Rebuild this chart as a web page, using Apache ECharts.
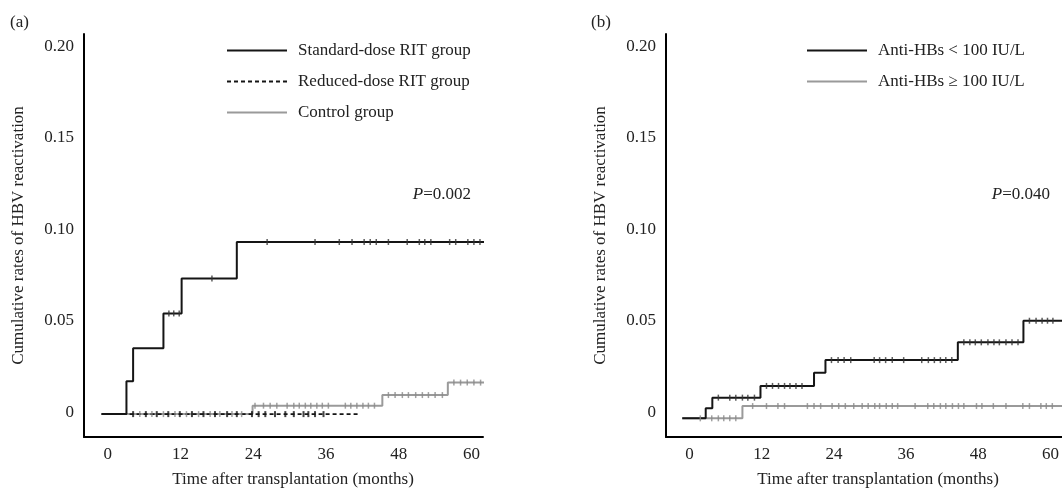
<!DOCTYPE html>
<html>
<head>
<meta charset="utf-8">
<script src="https://cdn.jsdelivr.net/npm/echarts@6/dist/echarts.min.js"></script>
<style>
    html, body {margin: 0; padding: 0; background: #fff;}
    #main {width: 1062px; height: 490px;}
</style>
</head>
<body>
<div id="main"></div>
<script>
// panel (a) - RIT groups
var stdTimes = [-1.0, 3.1, 4.2, 9.2, 12.2, 21.3, 62.5];
var stdRates = [-0.001, 0.017, 0.035, 0.054, 0.073, 0.093, 0.093];
var stdCensor = [10.1, 10.9, 11.8, 17.2, 26.3, 34.2, 38.2, 40.3, 42.3, 43.3, 44.3, 46.3, 49.4, 51.4, 52.3, 53.3, 56.4, 57.4, 59.4, 60.4, 61.4];

var redTimes = [-1.0, 41.4];
var redRates = [-0.001, -0.001];
var redCensor = [4.2, 6.3, 8.1, 10.0, 11.9, 13.9, 15.8, 17.7, 19.7, 21.3, 23.8, 24.9, 26.0, 27.6, 29.3, 30.7, 32.3, 33.1, 34.2, 35.6];

var ctlTimes = [-1.0, 23.9, 45.3, 56.1, 62.5];
var ctlRates = [-0.001, 0.0036, 0.0094, 0.0162, 0.0162];
var ctlCensor = [5.3, 7.3, 9.2, 11.1, 13.0, 15.0, 16.9, 18.5, 20.5, 22.1, 24.3, 25.7, 26.8, 27.9, 29.6, 30.7, 31.6, 32.6, 33.5, 34.5, 35.4, 36.4, 39.2, 40.1, 41.1, 42.1, 43.0, 44.0, 46.3, 47.4, 48.6, 49.6, 50.8, 51.9, 52.9, 54.0, 55.2, 57.1, 58.2, 59.3, 60.4, 61.5];

// panel (b) - anti-HBs titre
var lowTimes = [-1.2, 2.7, 3.8, 11.8, 20.7, 22.6, 44.6, 55.5, 63];
var lowRates = [-0.0033, 0.0022, 0.0080, 0.0144, 0.0216, 0.0285, 0.0382, 0.0500, 0.0500];
var lowCensor = [4.8, 6.7, 7.7, 8.8, 9.7, 10.8, 12.8, 13.8, 14.8, 15.8, 16.7, 17.7, 18.7, 23.6, 24.7, 25.7, 26.8, 30.7, 31.6, 32.6, 33.7, 35.6, 38.6, 39.7, 40.7, 41.7, 42.6, 43.6, 45.6, 46.6, 47.5, 48.5, 49.6, 50.6, 51.5, 52.6, 53.6, 54.6, 56.5, 57.6, 58.6, 59.5, 60.4];

var highTimes = [-1.2, 8.8, 63];
var highRates = [-0.0033, 0.0034, 0.0034];
var highCensor = [1.8, 3.7, 4.8, 5.7, 6.7, 7.7, 10.5, 12.8, 14.7, 15.8, 19.6, 20.7, 21.8, 23.7, 24.8, 25.9, 27.3, 28.7, 29.7, 30.8, 31.6, 32.7, 33.7, 34.6, 37.5, 39.6, 40.6, 41.7, 42.6, 43.7, 44.7, 45.6, 47.7, 48.6, 50.5, 52.6, 55.4, 56.5, 58.4, 59.3, 60.3];

var xTicks = [0, 12, 24, 36, 48, 60];
var yTicks = [0, 0.05, 0.10, 0.15, 0.20];

var FONT = 'Liberation Serif';
var FS = 17;
var BLACK = '#151515';
var GREY = '#9a9a9a';

function stepData(times, rates) {
    var out = [];
    for (var i = 0; i < times.length; i++) {
        out.push([times[i], rates[i]]);
    }
    return out;
}

function levelAt(times, rates, t) {
    var v = rates[0];
    for (var i = 0; i < times.length; i++) {
        if (times[i] <= t) v = rates[i];
    }
    return v;
}

function censorData(censor, times, rates) {
    return censor.map(function (t) {
        return [t, levelAt(times, rates, t)];
    });
}

function xAxisOf(idx) {
    return {
        type: 'value',
        gridIndex: idx,
        min: -3.9,
        max: 61.9,
        axisLine: {show: true, onZero: false, lineStyle: {color: '#000', width: 2}},
        axisTick: {show: false},
        splitLine: {show: false},
        axisLabel: {
            customValues: xTicks,
            margin: 9,
            color: '#222',
            fontFamily: FONT,
            fontSize: FS
        }
    };
}

function yAxisOf(idx) {
    return {
        type: 'value',
        gridIndex: idx,
        min: -0.0135,
        max: 0.2066,
        name: 'Cumulative rates of HBV reactivation',
        nameLocation: 'middle',
        nameGap: 57,
        nameTextStyle: {color: '#222', fontFamily: FONT, fontSize: FS},
        axisLine: {show: true, onZero: false, lineStyle: {color: '#000', width: 2}},
        axisTick: {show: false},
        splitLine: {show: false},
        axisLabel: {
            customValues: yTicks,
            margin: 10,
            color: '#222',
            fontFamily: FONT,
            fontSize: FS,
            formatter: function (v) {
                return v === 0 ? '0' : v.toFixed(2);
            }
        }
    };
}

function stepSeries(name, idx, times, rates, color, dashed) {
    return {
        name: name,
        type: 'line',
        xAxisIndex: idx,
        yAxisIndex: idx,
        step: 'end',
        symbol: 'none',
        clip: false,
        z: color === GREY ? 2 : 3,
        lineStyle: {color: color, width: dashed ? 1.6 : 2, type: dashed ? [4, 3] : 'solid'},
        itemStyle: {color: color},
        data: stepData(times, rates)
    };
}

function censorSeries(idx, censor, times, rates, color, size) {
    return {
        type: 'scatter',
        xAxisIndex: idx,
        yAxisIndex: idx,
        symbol: 'rect',
        symbolSize: size,
        silent: true,
        z: color === GREY ? 2 : 4,
        itemStyle: {color: color},
        data: censorData(censor, times, rates)
    };
}

var legendText = {color: '#222', fontFamily: FONT, fontSize: FS, padding: [0, 0, 0, 6]};
var textFont = FS + 'px "Liberation Serif"';

var option = {
    animation: false,
    backgroundColor: '#fff',
    grid: [
        {left: 84, top: 34, width: 399, height: 403},
        {left: 666, top: 34, width: 399, height: 403}
    ],
    xAxis: [xAxisOf(0), xAxisOf(1)],
    yAxis: [yAxisOf(0), yAxisOf(1)],
    legend: [
        {
            orient: 'vertical',
            left: 221,
            top: 37,
            itemWidth: 60,
            itemHeight: 18,
            itemGap: 14,
            itemStyle: {opacity: 0},
            textStyle: legendText,
            data: ['Standard-dose RIT group', 'Reduced-dose RIT group', 'Control group']
        },
        {
            orient: 'vertical',
            left: 801,
            top: 37,
            itemWidth: 60,
            itemHeight: 18,
            itemGap: 14,
            itemStyle: {opacity: 0},
            textStyle: legendText,
            data: ['Anti-HBs < 100 IU/L', 'Anti-HBs \u2265 100 IU/L']
        }
    ],
    graphic: [
        {type: 'text', left: 10, top: 14, style: {text: '(a)', fill: '#222', font: textFont}},
        {type: 'text', left: 591, top: 14, style: {text: '(b)', fill: '#222', font: textFont}},
        {type: 'text', x: 293, y: 480, style: {text: 'Time after transplantation (months)', fill: '#222', font: textFont, textAlign: 'center', textVerticalAlign: 'middle'}},
        {type: 'text', x: 878, y: 480, style: {text: 'Time after transplantation (months)', fill: '#222', font: textFont, textAlign: 'center', textVerticalAlign: 'middle'}},
        {type: 'text', x: 471, y: 195, style: {text: '{i|P}=0.002', fill: '#222', font: textFont, textAlign: 'right', textVerticalAlign: 'middle', rich: {i: {fontStyle: 'italic', fontFamily: FONT, fontSize: FS}}}},
        {type: 'text', x: 1050, y: 195, style: {text: '{i|P}=0.040', fill: '#222', font: textFont, textAlign: 'right', textVerticalAlign: 'middle', rich: {i: {fontStyle: 'italic', fontFamily: FONT, fontSize: FS}}}}
    ],
    series: [
        stepSeries('Control group', 0, ctlTimes, ctlRates, GREY, false),
        stepSeries('Reduced-dose RIT group', 0, redTimes, redRates, BLACK, true),
        stepSeries('Standard-dose RIT group', 0, stdTimes, stdRates, BLACK, false),
        censorSeries(0, ctlCensor, ctlTimes, ctlRates, '#8a8a8a', [1.5, 6]),
        censorSeries(0, redCensor, redTimes, redRates, BLACK, [2, 6]),
        censorSeries(0, stdCensor, stdTimes, stdRates, '#333', [1.5, 6]),
        stepSeries('Anti-HBs \u2265 100 IU/L', 1, highTimes, highRates, GREY, false),
        stepSeries('Anti-HBs < 100 IU/L', 1, lowTimes, lowRates, BLACK, false),
        censorSeries(1, highCensor, highTimes, highRates, '#8a8a8a', [1.5, 6]),
        censorSeries(1, lowCensor, lowTimes, lowRates, '#333', [1.5, 6])
    ]
};

var myChart = echarts.init(document.getElementById('main'), null, {renderer: 'canvas'});
myChart.setOption(option);
</script>
</body>
</html>
